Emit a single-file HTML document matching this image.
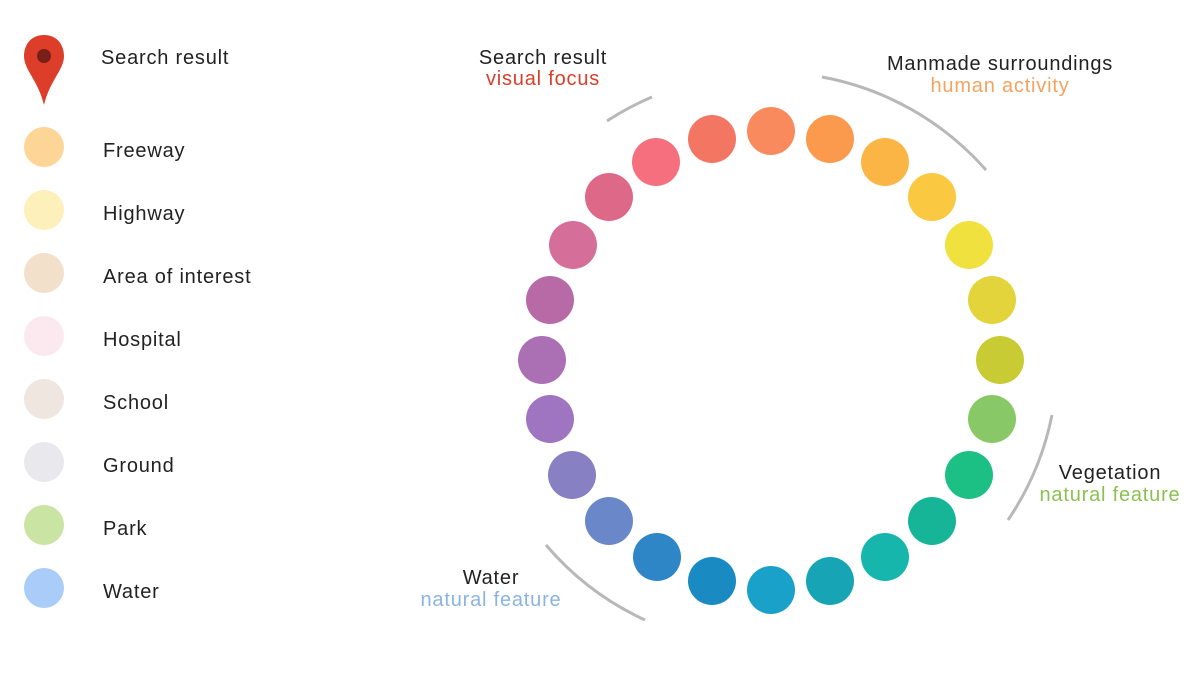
<!DOCTYPE html>
<html><head><style>
body{margin:0;background:#fff;width:1200px;height:675px;overflow:hidden;font-family:"Liberation Sans",sans-serif}
</style></head><body>
<svg width="1200" height="675" xmlns="http://www.w3.org/2000/svg" font-family="Liberation Sans, sans-serif" font-size="20" letter-spacing="0.8">
<path d="M44 35 C30 35 24 46 24 56 C24 70 38 80 44 105 C50 80 64 70 64 56 C64 46 58 35 44 35Z" fill="#dc3e2a"/>
<circle cx="44" cy="56" r="7" fill="#7a1f18"/>
<text x="101" y="64" fill="#222">Search result</text>
<g>
<circle cx="44" cy="147" r="20" fill="#fdd597"/><text x="103" y="157" fill="#222">Freeway</text>
<circle cx="44" cy="210" r="20" fill="#fef0bb"/><text x="103" y="220" fill="#222">Highway</text>
<circle cx="44" cy="273" r="20" fill="#f2e0ca"/><text x="103" y="283" fill="#222">Area of interest</text>
<circle cx="44" cy="336" r="20" fill="#fbe9ef"/><text x="103" y="346" fill="#222">Hospital</text>
<circle cx="44" cy="399" r="20" fill="#efe6e0"/><text x="103" y="409" fill="#222">School</text>
<circle cx="44" cy="462" r="20" fill="#e9e8ec"/><text x="103" y="472" fill="#222">Ground</text>
<circle cx="44" cy="525" r="20" fill="#c9e4a3"/><text x="103" y="535" fill="#222">Park</text>
<circle cx="44" cy="588" r="20" fill="#a9cdf8"/><text x="103" y="598" fill="#222">Water</text>
</g>
<g>
<circle cx="771" cy="131" r="24" fill="#f98a5e"/>
<circle cx="830" cy="139" r="24" fill="#fb9a4d"/>
<circle cx="885" cy="162" r="24" fill="#fbb545"/>
<circle cx="932" cy="197" r="24" fill="#fbc842"/>
<circle cx="969" cy="245" r="24" fill="#f0e13f"/>
<circle cx="992" cy="300" r="24" fill="#e2d43a"/>
<circle cx="1000" cy="360" r="24" fill="#c9cb35"/>
<circle cx="992" cy="419" r="24" fill="#88c866"/>
<circle cx="969" cy="475" r="24" fill="#1cc084"/>
<circle cx="932" cy="521" r="24" fill="#17b597"/>
<circle cx="885" cy="557" r="24" fill="#17b6ad"/>
<circle cx="830" cy="581" r="24" fill="#17a5b5"/>
<circle cx="771" cy="590" r="24" fill="#1aa1c9"/>
<circle cx="712" cy="581" r="24" fill="#1a8bc2"/>
<circle cx="657" cy="557" r="24" fill="#2e86c7"/>
<circle cx="609" cy="521" r="24" fill="#6a87c9"/>
<circle cx="572" cy="475" r="24" fill="#8780c2"/>
<circle cx="550" cy="419" r="24" fill="#9f75c1"/>
<circle cx="542" cy="360" r="24" fill="#ab70b4"/>
<circle cx="550" cy="300" r="24" fill="#b86aa6"/>
<circle cx="573" cy="245" r="24" fill="#d56f99"/>
<circle cx="609" cy="197" r="24" fill="#dd6888"/>
<circle cx="656" cy="162" r="24" fill="#f56f7f"/>
<circle cx="712" cy="139" r="24" fill="#f37663"/>
</g>
<g fill="none" stroke="#b8b8b8" stroke-width="3">
<path d="M607 121 A288 288 0 0 1 652 97"/>
<path d="M822 77 A288 288 0 0 1 986 170"/>
<path d="M1052 415 A288 288 0 0 1 1008 520"/>
<path d="M645 620 A288 288 0 0 1 546 545"/>
</g>
<g text-anchor="middle">
<text x="543" y="64" fill="#222">Search result</text>
<text x="543" y="85" fill="#d9402b">visual focus</text>
<text x="1000" y="70" fill="#222">Manmade surroundings</text>
<text x="1000" y="92" fill="#f3a35f">human activity</text>
<text x="1110" y="479" fill="#222">Vegetation</text>
<text x="1110" y="501" fill="#8cc152">natural feature</text>
<text x="491" y="584" fill="#222">Water</text>
<text x="491" y="606" fill="#8ab4e0">natural feature</text>
</g>
</svg>
</body></html>
